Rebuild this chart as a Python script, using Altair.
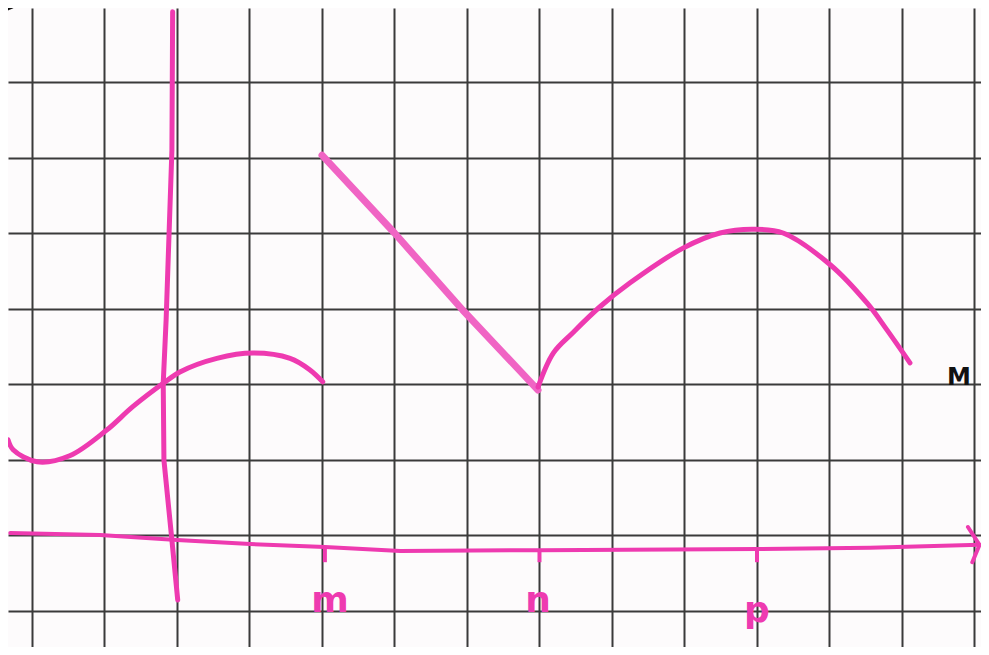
import altair as alt
import pandas as pd

# grid units: vertical grid lines at integer x, horizontal at integer y
grid_x = list(range(-2, 12))
grid_y = list(range(-1, 8))
x_domain = [-2.331, 11.090]
y_domain = [-1.483, 6.980]

# first branch (left S-curve)
c1_x = [-2.33, -2.26, -1.93, -1.48, -0.97, -0.61, -0.19, 0.04, 0.55, 1.05, 1.56, 1.83, 2.01]
c1_y = [1.26, 1.13, 0.97, 1.05, 1.39, 1.70, 2.01, 2.16, 2.34, 2.41, 2.34, 2.19, 2.03]
# straight decreasing segment m -> n
c2_x = [2.0, 3.0, 3.94, 4.98]
c2_y = [5.03, 4.0, 2.98, 1.92]
# arch n -> beyond p
c3_x = [4.98, 5.19, 5.46, 5.83, 6.25, 6.98, 7.49, 7.94, 8.36, 9.01, 9.52, 9.79, 10.11]
c3_y = [1.96, 2.41, 2.68, 3.02, 3.34, 3.80, 4.0, 4.05, 4.0, 3.58, 3.07, 2.72, 2.28]
# hand-drawn axes
yax_x = [-0.06, -0.07, -0.15, -0.19, -0.18, -0.07, 0.01]
yax_y = [6.93, 5.10, 2.85, 2.01, 0.99, -0.07, -0.86]
xax_x = [-2.30, -1.06, 0.0, 1.01, 2.04, 3.08, 5.01, 8.0, 9.56, 11.07]
xax_y = [0.026, 0.0, -0.066, -0.12, -0.16, -0.21, -0.20, -0.185, -0.17, -0.13]
arrow_x = [10.91, 11.07, 10.97]
arrow_y = [0.106, -0.13, -0.36]
# tick marks on the x axis
tick_x = [2.04, 5.0, 8.0]
tick_top = [-0.16, -0.20, -0.185]
tick_bot = [-0.36, -0.36, -0.36]
# labels
lab_text = ["m", "n", "p"]
lab_x = [2.11, 4.98, 8.0]
lab_y = [-1.02, -1.02, -1.15]
# black marks
note_text = ["M"]
note_x = [10.62]
note_y = [1.99]
arc_x = [-2.44, -2.30, -2.12]
arc_y = [6.93, 6.98, 7.08]

PINK = "#ee3ab0"


def seg(xs, ys):
    return pd.DataFrame({"x": xs, "y": ys, "i": list(range(len(xs)))})


X = alt.X("x:Q", scale=alt.Scale(domain=x_domain, nice=False, zero=False),
          axis=alt.Axis(values=grid_x, labels=False, ticks=False, domain=False,
                        title=None, grid=True, gridColor="#3a3a3a", gridWidth=2))
Y = alt.Y("y:Q", scale=alt.Scale(domain=y_domain, nice=False, zero=False),
          axis=alt.Axis(values=grid_y, labels=False, ticks=False, domain=False,
                        title=None, grid=True, gridColor="#3a3a3a", gridWidth=2))
O = alt.Order("i:Q")


def line(xs, ys, color, width, interp="linear", opacity=1.0):
    return alt.Chart(seg(xs, ys)).mark_line(
        color=color, strokeWidth=width, interpolate=interp, strokeCap="round",
        strokeJoin="round", opacity=opacity, clip=True
    ).encode(x=X, y=Y, order=O)


layers = [
    line(xax_x, xax_y, PINK, 4),
    line(arrow_x, arrow_y, PINK, 4),
    line(yax_x, yax_y, PINK, 5),
    line(c1_x, c1_y, PINK, 5, "catmull-rom"),
    line(c2_x, c2_y, "#f064c4", 7),
    line(c3_x, c3_y, PINK, 5, "catmull-rom"),
    line(arc_x, arc_y, "#111111", 3, "catmull-rom"),
    alt.Chart(pd.DataFrame({"x": tick_x, "y": tick_top, "y2": tick_bot})).mark_rule(
        color=PINK, strokeWidth=4
    ).encode(x=X, y=Y, y2="y2:Q"),
    alt.Chart(pd.DataFrame({"x": lab_x, "y": lab_y, "t": lab_text})).mark_text(
        color=PINK, fontSize=36, font="DejaVu Sans", fontWeight="bold",
        baseline="alphabetic", align="center"
    ).encode(x=X, y=Y, text="t:N"),
    alt.Chart(pd.DataFrame({"x": note_x, "y": note_y, "t": note_text})).mark_text(
        color="#111111", fontSize=24, font="DejaVu Sans", fontWeight="bold",
        baseline="alphabetic", align="left"
    ).encode(x=X, y=Y, text="t:N"),
]

chart = alt.layer(*layers).properties(
    width=973, height=639, padding=0, autosize=alt.AutoSizeParams(type="none"),
    background="#fdfbfc"
).configure_view(stroke=None)

chart.save("out.html", embed_options={"renderer": "svg", "actions": False})
